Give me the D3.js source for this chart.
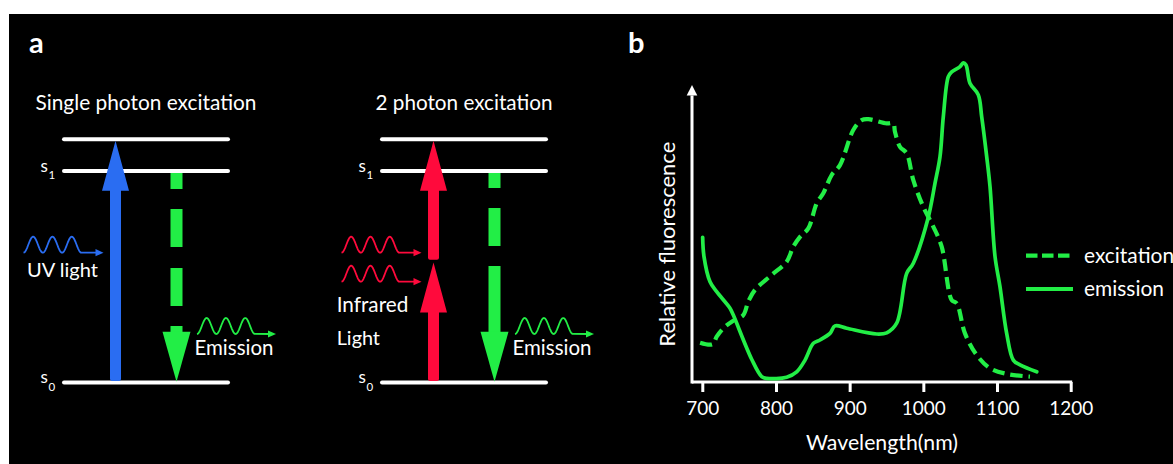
<!DOCTYPE html>
<html>
<head>
<meta charset="utf-8">
<script src="https://cdn.jsdelivr.net/npm/d3@7"></script>
<style>
  html, body { margin: 0; padding: 0; background: #fff; }
  svg { display: block; }
  text { font-family: Lato, "Open Sans", sans-serif; fill: #fff; }
</style>
</head>
<body>
<svg id="fig" width="1173" height="464"></svg>
<script>
// ---------- Panel a: energy diagrams ----------
// Energy levels, in units of the S0 -> S1 gap
const levelEnergies = [0, 1, 1.15];
const levelSubscripts = ["0", "1", null];
const schemeTitles = ["Single photon excitation", "2 photon excitation"];
// photon energies absorbed in each scheme (stacked from S0)
const photonEnergies = [[1.15], [0.575, 0.575]];
const lightLabels = [["UV light"], ["Infrared", "Light"]];
const emissionEnergy = 1;
const emissionLabel = "Emission";

// ---------- Panel b: spectra ----------
const excitationNm  = [697, 714, 719.5, 728.5, 742, 755.6, 762.4, 771.5, 794.2, 814.5, 823.5, 832.6, 843.9, 855.3, 864.2, 875.6, 886.9, 904.9, 916.3, 925.3, 950.3, 959.2, 961.5, 968.3, 977.4, 986.4, 999.9, 1013.5, 1024.9, 1038.5, 1045.3, 1056.5, 1072.4, 1090.5, 1113.1, 1144.7];
const excitationVal = [13.1, 12.6, 15.1, 17.9, 20.4, 22.3, 26.8, 30.7, 35.7, 40.1, 45.1, 48.4, 51.2, 59.6, 62.9, 69, 72.3, 84, 87.3, 87.6, 86.2, 86.2, 83.4, 78.4, 76.2, 67.3, 58.4, 51.8, 45.1, 27.3, 26.2, 16.2, 9, 4.6, 2.7, 1.8];
const emissionNm  = [700.5, 702.3, 710.5, 719.5, 737.6, 742.1, 767, 780.6, 787.4, 814.5, 828.1, 839.4, 850.7, 859.7, 873.3, 880.1, 896, 936.7, 950.3, 963.8, 977.4, 986.4, 1006.3, 1015.8, 1022.6, 1027.1, 1033.9, 1038.5, 1049.8, 1054.3, 1057.9, 1063.3, 1074.6, 1079.2, 1086, 1090.5, 1097.3, 1104, 1113.1, 1122.1, 1131.2, 1153.9];
const emissionVal = [48.2, 41.8, 33.4, 30.1, 24.6, 22.3, 7.6, 1.8, 1.2, 1.6, 3.4, 7.3, 12.9, 14, 16.2, 18.7, 17.9, 16, 16.4, 19.6, 36.2, 39.6, 54.5, 66.2, 75.1, 88.4, 101.8, 103.4, 105.1, 106.4, 105.7, 99.6, 95.7, 88.4, 75.1, 65.1, 41.8, 31.8, 16.2, 7.3, 5.7, 3.4];
const xTicks = [700, 800, 900, 1000, 1100, 1200];
const seriesNames = ["excitation", "emission"];
const xTitle = "Wavelength(nm)";
const yTitle = "Relative fluorescence";

// ---------- styling ----------
const WHITE = "#ffffff";
const GREEN = "#22ee46";
const BLUE = "#2a6df2";
const RED = "#ff0a3c";
const photonColors = [BLUE, RED];

const svg = d3.select("#fig");

// scale a text's font size so it spans a given width
function fitWidth(sel, width) {
  const len = sel.node().getComputedTextLength();
  const fs = parseFloat(sel.attr("font-size"));
  sel.attr("font-size", (fs * width / len).toFixed(2));
  return sel;
}

// figure background
svg.append("rect").attr("x", 9).attr("y", 14).attr("width", 1164).attr("height", 450).attr("fill", "#000");

// panel letters
svg.append("text").attr("x", 29).attr("y", 53).attr("font-family", "'Liberation Sans', Arial, sans-serif")
  .attr("font-weight", "bold").attr("font-size", 29).text("a");
svg.append("text").attr("x", 628).attr("y", 53).attr("font-family", "'Liberation Sans', Arial, sans-serif")
  .attr("font-weight", "bold").attr("font-size", 29).text("b");

// ===== Panel a =====
const yE = d3.scaleLinear().domain([0, 1]).range([382.5, 171]);
const panelLeft = [62, 380];
const levelWidth = 168;
const excOffset = 53.5, emOffset = 114.5;

// block arrow pointing from tail (yTail) to tip (yTip)
function blockArrow(g, x, yTail, yTip, shaftW, headW, headL, color) {
  const dir = yTip < yTail ? -1 : 1;          // -1 = up
  const yBase = yTip - dir * headL;
  const p = d3.path();
  const r = 2;
  p.moveTo(x - shaftW / 2, yBase);
  p.lineTo(x - shaftW / 2, yTail + dir * r);
  p.quadraticCurveTo(x - shaftW / 2, yTail, x - shaftW / 2 + r, yTail);
  p.lineTo(x + shaftW / 2 - r, yTail);
  p.quadraticCurveTo(x + shaftW / 2, yTail, x + shaftW / 2, yTail + dir * r);
  p.lineTo(x + shaftW / 2, yBase);
  p.lineTo(x + headW / 2, yBase);
  p.lineTo(x, yTip);
  p.lineTo(x - headW / 2, yBase);
  p.closePath();
  g.append("path").attr("d", p.toString()).attr("fill", color);
}

// photon wave: three sine periods followed by a straight arrow
function photonWave(g, xStart, xTip, yBase, color) {
  const P = 19.3, A = 16, n = 3;
  const pts = d3.range(0, n * P + 0.01, 0.5).map(t => [xStart + t, yBase - A * (1 - Math.cos(2 * Math.PI * t / P)) / 2]);
  pts.push([xTip - 6, yBase]);
  g.append("path").attr("d", d3.line()(pts)).attr("fill", "none").attr("stroke", color)
    .attr("stroke-width", 1.8).attr("stroke-linejoin", "round");
  g.append("path").attr("d", `M${xTip},${yBase} L${xTip - 8},${yBase - 3.6} L${xTip - 8},${yBase + 3.6} Z`).attr("fill", color);
}

const waveYs = [[252.7], [252.7, 281.7]];
const lightLabelPos = [[{x: 27, y: 277}], [{x: 336.7, y: 311.7}, {x: 336.7, y: 345}]];
const lightLabelW = [[71], [71.6, 43.3]];
const titleW = [221, 177];
const emDash = ["16 20 38 21 38 20 200", "15 20 38 20 200"];

schemeTitles.forEach((title, i) => {
  const g = svg.append("g");
  const x0 = panelLeft[i];
  const xc = x0 + levelWidth / 2;

  // title
  const t = g.append("text").attr("x", xc).attr("y", 110).attr("text-anchor", "middle")
    .attr("font-size", 20).text(title);
  fitWidth(t, titleW[i]);

  // levels
  levelEnergies.forEach((e, k) => {
    g.append("line").attr("x1", x0 + 2).attr("x2", x0 + levelWidth - 2)
      .attr("y1", yE(e)).attr("y2", yE(e))
      .attr("stroke", WHITE).attr("stroke-width", 4).attr("stroke-linecap", "round");
    if (levelSubscripts[k] !== null) {
      const lt = g.append("text").attr("x", x0 - 21.5).attr("y", yE(e) + 0.5).attr("font-size", 17);
      lt.append("tspan").text("s");
      lt.append("tspan").attr("font-size", 11.5).attr("dy", 7.5).attr("dx", 0.5).text(levelSubscripts[k]);
    }
  });

  // absorbed photons (stacked arrows)
  const ax = x0 + excOffset;
  let cum = 0;
  photonEnergies[i].forEach((pe, j) => {
    const yTail = yE(cum) - (j === 0 ? 1.5 : 1.2);
    const yTip = yE(cum + pe) + 1.5;
    blockArrow(g, ax, yTail, yTip, 11, 27, 50, photonColors[i]);
    cum += pe;
  });

  // incoming light waves and labels
  waveYs[i].forEach(wy => photonWave(g, ax - 92, ax - 12, wy, photonColors[i]));
  lightLabels[i].forEach((lab, j) => {
    const lt = g.append("text").attr("x", lightLabelPos[i][j].x).attr("y", lightLabelPos[i][j].y)
      .attr("font-size", 19).text(lab);
    fitWidth(lt, lightLabelW[i][j]);
  });

  // emission arrow S1 -> S0
  const ex = x0 + emOffset;
  const yTop = yE(emissionEnergy) + 2;
  const yTip = yE(0) - 0.8;
  const headL = 50, headW = 28;
  g.append("line").attr("x1", ex).attr("x2", ex).attr("y1", yTop).attr("y2", yTip - headL + 1)
    .attr("stroke", GREEN).attr("stroke-width", 12).attr("stroke-dasharray", emDash[i]);
  g.append("path").attr("d", `M${ex - headW / 2},${yTip - headL} L${ex + headW / 2},${yTip - headL} L${ex},${yTip} Z`).attr("fill", GREEN);

  // emitted light wave and label
  photonWave(g, ex + 20.5, ex + 99.5, 334, GREEN);
  const el = g.append("text").attr("x", ex + 18).attr("y", 354.5).attr("font-size", 19).text(emissionLabel);
  fitWidth(el, 79);
});

// ===== Panel b =====
const x = d3.scaleLinear().domain([700, 1200]).range([702.3, 1070.7]);
const y = d3.scaleLinear().domain([0, 100]).range([382, 82]);
const axisX = x(700) - 10.3;
const gb = svg.append("g");

// x axis
const xAxisG = gb.append("g").attr("transform", `translate(0,${y(0)})`)
  .call(d3.axisBottom(x).tickValues(xTicks).tickFormat(d3.format("d")).tickSize(10).tickSizeOuter(0));
xAxisG.select(".domain").remove();
xAxisG.selectAll("line").attr("stroke", WHITE).attr("stroke-width", 3);
xAxisG.selectAll("text").attr("fill", WHITE).attr("y", 33).attr("dy", null)
  .attr("font-family", "Lato, 'Open Sans', sans-serif").attr("font-size", 19);
{
  const t1000 = xAxisG.selectAll("text").filter(d => d === 1000);
  const len = t1000.node().getComputedTextLength();
  xAxisG.selectAll("text").attr("font-size", (19 * 44 / len).toFixed(2));
}
gb.append("path").attr("d", `M${axisX},${y(0)} H${x(1200) + 1.5}`)
  .attr("stroke", WHITE).attr("stroke-width", 3).attr("fill", "none");

// y axis with arrow
gb.append("path").attr("d", `M${axisX},${y(0) + 1.5} V${y(95.5)}`)
  .attr("stroke", WHITE).attr("stroke-width", 3).attr("fill", "none");
gb.append("path").attr("d", `M${axisX},${y(99)} L${axisX - 5.3},${y(95.5)} L${axisX + 5.3},${y(95.5)} Z`).attr("fill", WHITE);

// axis titles
const xt = gb.append("text").attr("x", 882).attr("y", 450).attr("text-anchor", "middle").attr("font-size", 21).text(xTitle);
fitWidth(xt, 152);
const yt = gb.append("text").attr("transform", `translate(675,244.2) rotate(-90)`).attr("text-anchor", "middle")
  .attr("font-size", 21).text(yTitle);
fitWidth(yt, 205);

// spectra
const line = d3.line().x(d => x(d[0])).y(d => y(d[1])).curve(d3.curveCatmullRom.alpha(0.5));
const excitation = excitationNm.map((n, i) => [n, excitationVal[i]]);
const emission = emissionNm.map((n, i) => [n, emissionVal[i]]);

gb.append("path").attr("d", line(excitation)).attr("fill", "none").attr("stroke", GREEN)
  .attr("stroke-width", 4.2).attr("stroke-dasharray", "12 6");
gb.append("path").attr("d", line(emission)).attr("fill", "none").attr("stroke", GREEN)
  .attr("stroke-width", 3.7).attr("stroke-linejoin", "round").attr("stroke-linecap", "round");

// legend
const legY = [255.7, 289];
const legDash = ["11.5 4.5", null];
const legW = [4.2, 4];
seriesNames.forEach((name, i) => {
  const ln = gb.append("line").attr("x1", 1026).attr("x2", i === 0 ? 1069.5 : 1073)
    .attr("y1", legY[i]).attr("y2", legY[i]).attr("stroke", GREEN).attr("stroke-width", legW[i]);
  if (legDash[i]) ln.attr("stroke-dasharray", legDash[i]);
  gb.append("text").attr("class", "leg").attr("x", 1084).attr("y", legY[i] + 7.3).attr("font-size", 21).text(name);
});
{
  const em = gb.selectAll("text.leg").filter(d => false);
  const nodes = gb.selectAll("text.leg").nodes();
  const len = nodes[1].getComputedTextLength();
  const fs = (21 * 80 / len).toFixed(2);
  gb.selectAll("text.leg").attr("font-size", fs);
}
</script>
</body>
</html>
